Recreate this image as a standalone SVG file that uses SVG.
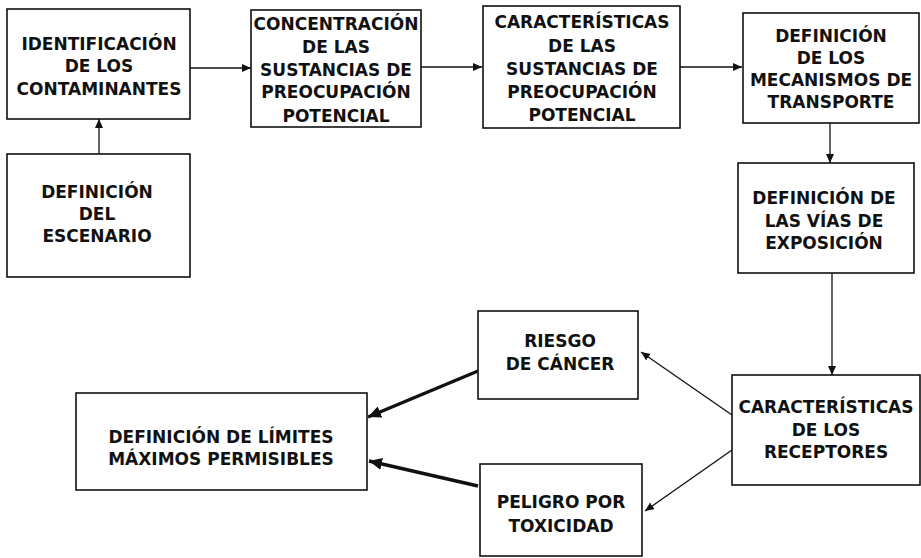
<svg xmlns="http://www.w3.org/2000/svg" width="921" height="558" viewBox="0 0 921 558">
<style>
.box{fill:#fff;stroke:#111;stroke-width:1.6}
.t{font-family:"DejaVu Sans","Verdana",sans-serif;font-weight:bold;font-size:17px;fill:#111;text-anchor:middle}
.c{fill:none;stroke:#111;stroke-width:1.3}
.k{fill:none;stroke:#111;stroke-width:3.5}
</style>
<defs>
<marker id="a" markerUnits="userSpaceOnUse" markerWidth="10" markerHeight="8" refX="9" refY="4" orient="auto"><path d="M0,0 L9,4 L0,8 z" fill="#111"/></marker>
<marker id="b" markerUnits="userSpaceOnUse" markerWidth="14" markerHeight="12" refX="13" refY="6" orient="auto"><path d="M0,0 L13,6 L0,12 z" fill="#111"/></marker>
</defs>
<rect width="921" height="558" fill="#fff"/>
<g id="connectors">
<line class="c" x1="190" y1="68" x2="251" y2="68" marker-end="url(#a)"/>
<line class="c" x1="421" y1="67" x2="482" y2="67" marker-end="url(#a)"/>
<line class="c" x1="680" y1="67" x2="742" y2="67" marker-end="url(#a)"/>
<line class="c" x1="830" y1="123" x2="830" y2="163" marker-end="url(#a)"/>
<line class="c" x1="832" y1="273" x2="832" y2="375" marker-end="url(#a)"/>
<line class="c" x1="99" y1="154" x2="99" y2="119" marker-end="url(#a)"/>
<line class="c" x1="732" y1="415" x2="641" y2="352" marker-end="url(#a)"/>
<line class="c" x1="732" y1="450" x2="645" y2="511" marker-end="url(#a)"/>
<line class="k" x1="478" y1="371" x2="368" y2="417" marker-end="url(#b)"/>
<line class="k" x1="478" y1="486" x2="369" y2="461" marker-end="url(#b)"/>
</g>
<g id="n1"><rect class="box" x="7" y="9" width="183" height="110"/>
<text class="t" x="99" y="50">IDENTIFICACIÓN</text><text class="t" x="99" y="72">DE LOS</text><text class="t" x="99" y="95">CONTAMINANTES</text></g>
<g id="n2"><rect class="box" x="251" y="10" width="170" height="117"/>
<text class="t" x="336" y="30">CONCENTRACIÓN</text><text class="t" x="336" y="53">DE LAS</text><text class="t" x="336" y="76">SUSTANCIAS DE</text><text class="t" x="336" y="98">PREOCUPACIÓN</text><text class="t" x="336" y="122">POTENCIAL</text></g>
<g id="n3"><rect class="box" x="483" y="6" width="197" height="122"/>
<text class="t" x="582" y="28">CARACTERÍSTICAS</text><text class="t" x="582" y="52">DE LAS</text><text class="t" x="582" y="75">SUSTANCIAS DE</text><text class="t" x="582" y="98">PREOCUPACIÓN</text><text class="t" x="582" y="121">POTENCIAL</text></g>
<g id="n4"><rect class="box" x="743" y="13" width="176" height="110"/>
<text class="t" x="831" y="42">DEFINICIÓN</text><text class="t" x="831" y="64">DE LOS</text><text class="t" x="831" y="86">MECANISMOS DE</text><text class="t" x="831" y="108">TRANSPORTE</text></g>
<g id="n5"><rect class="box" x="738" y="163" width="176" height="110"/>
<text class="t" x="824" y="204">DEFINICIÓN DE</text><text class="t" x="824" y="227">LAS VÍAS DE</text><text class="t" x="824" y="249">EXPOSICIÓN</text></g>
<g id="n6"><rect class="box" x="732" y="375" width="188" height="110"/>
<text class="t" x="826" y="413">CARACTERÍSTICAS</text><text class="t" x="826" y="436">DE LOS</text><text class="t" x="826" y="458">RECEPTORES</text></g>
<g id="n7"><rect class="box" x="478" y="311" width="160" height="88"/>
<text class="t" x="560" y="347">RIESGO</text><text class="t" x="560" y="370">DE CÁNCER</text></g>
<g id="n8"><rect class="box" x="480" y="464" width="162" height="92"/>
<text class="t" x="561" y="508">PELIGRO POR</text><text class="t" x="561" y="532">TOXICIDAD</text></g>
<g id="n9"><rect class="box" x="76" y="393" width="291" height="97"/>
<text class="t" x="221" y="443">DEFINICIÓN DE LÍMITES</text><text class="t" x="221" y="465">MÁXIMOS PERMISIBLES</text></g>
<g id="n10"><rect class="box" x="7" y="154" width="183" height="123"/>
<text class="t" x="97" y="198">DEFINICIÓN</text><text class="t" x="97" y="220">DEL</text><text class="t" x="97" y="242">ESCENARIO</text></g>
</svg>
